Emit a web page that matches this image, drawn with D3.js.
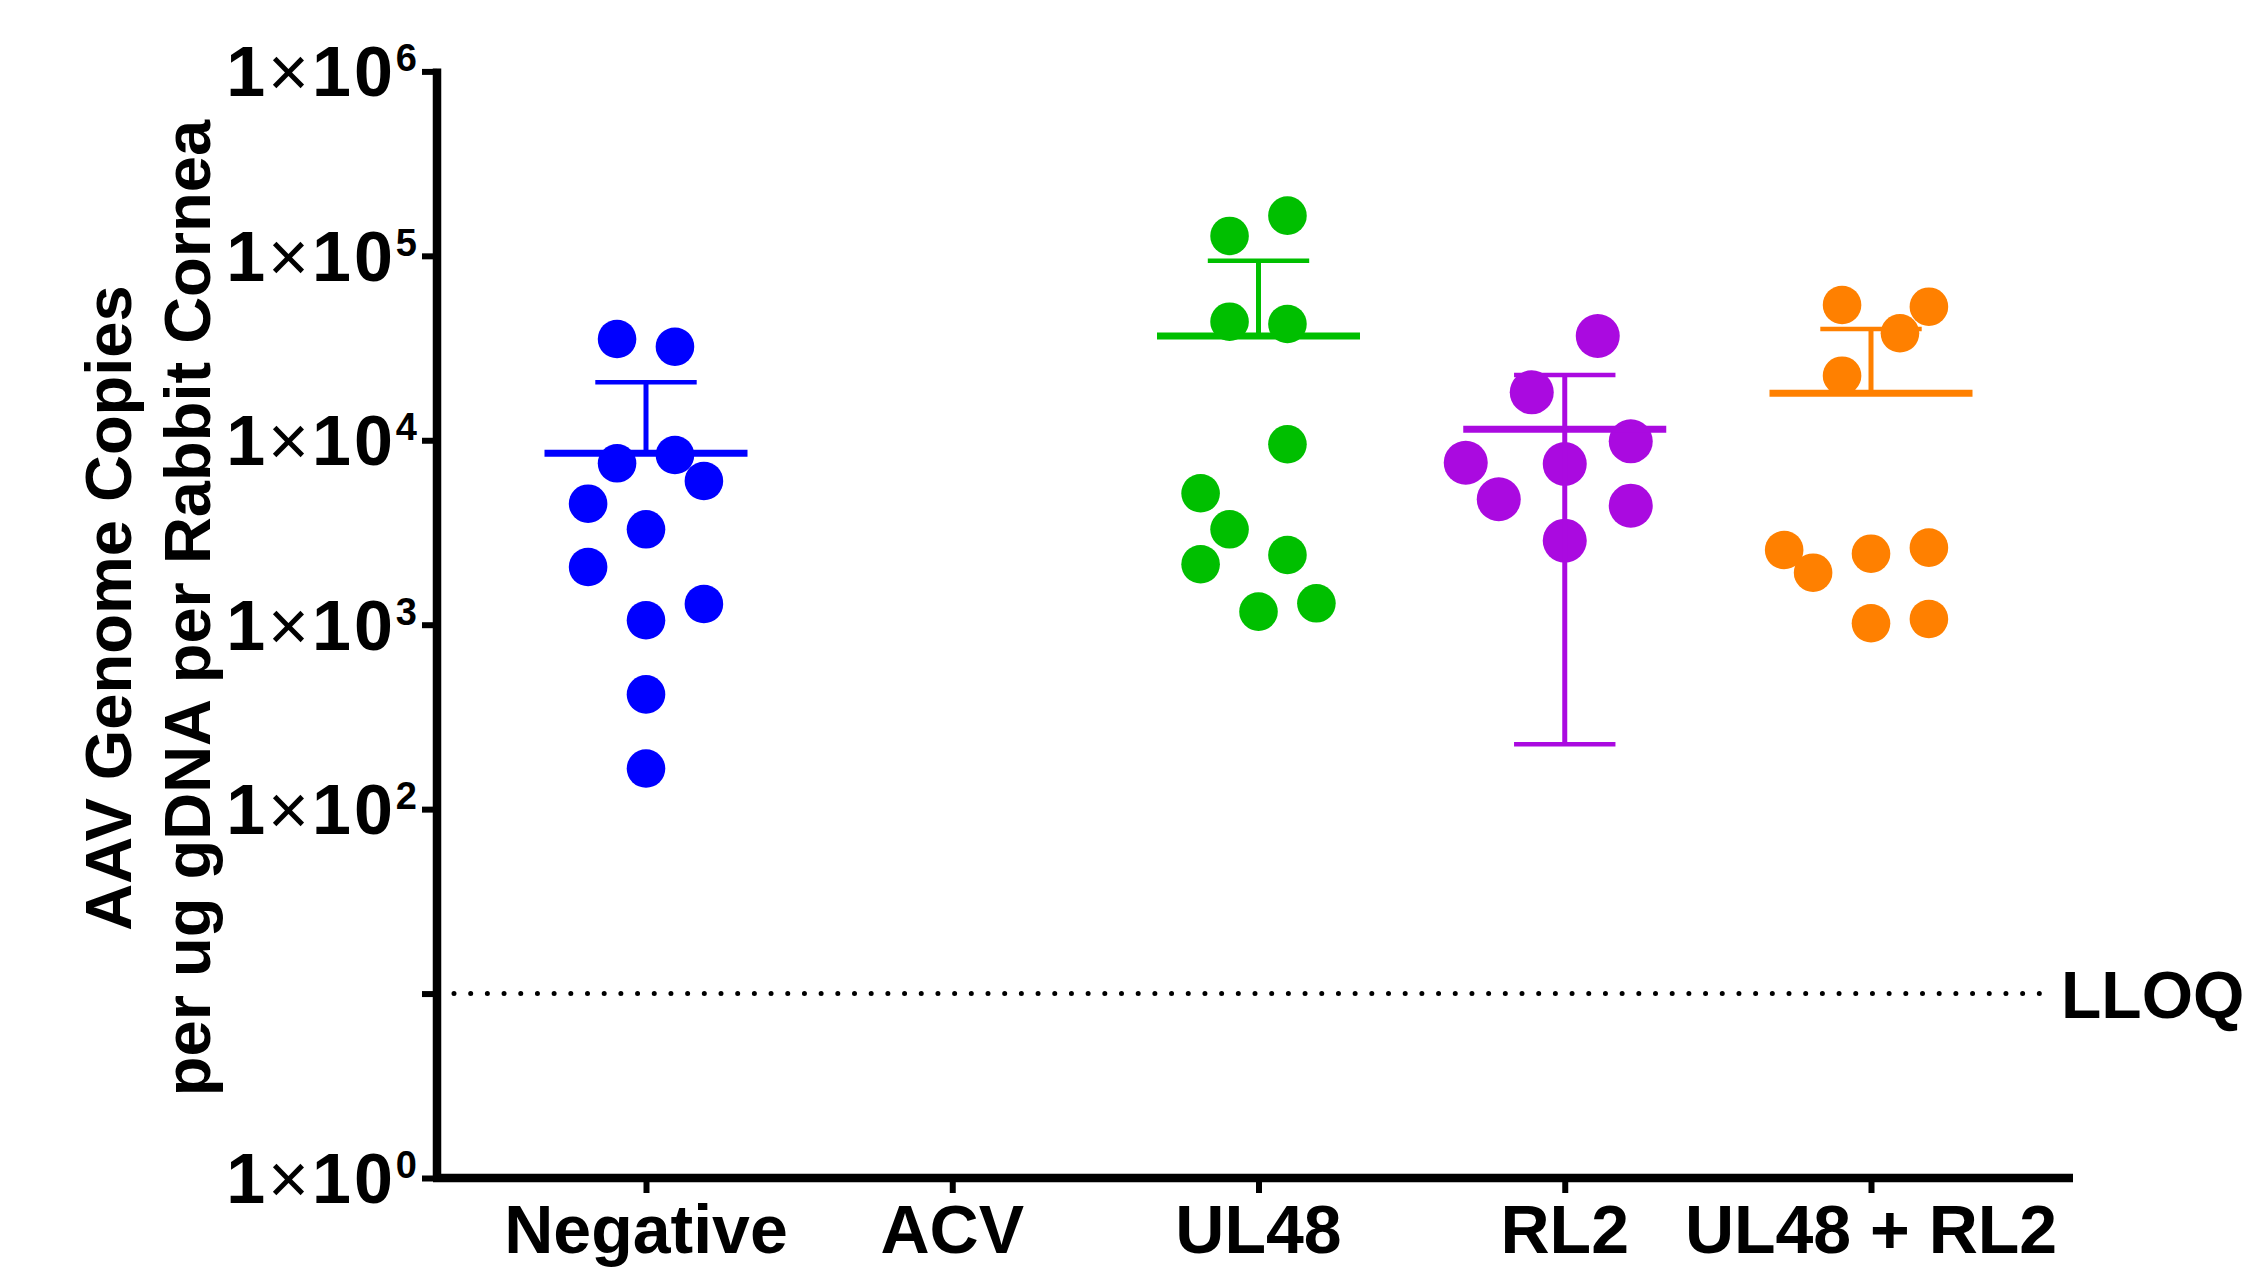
<!DOCTYPE html>
<html>
<head>
<meta charset="utf-8">
<script src="https://cdn.jsdelivr.net/npm/d3@7"></script>
<style>
  body { margin: 0; background: #fff; }
  text { font-family: "Liberation Sans", Arial, Helvetica, sans-serif; }
</style>
</head>
<body>
<div id="chart"></div>
<script>
// groups on the x axis
var categories = ["Negative", "ACV", "UL48", "RL2", "UL48 + RL2"];

// individual values per group, plus the column each dot sits in
var negativeValues = [35400, 32150, 7500, 8320, 6015, 4530, 3290, 2055, 1295, 1057, 419, 166];
var negativeSlots  = [-1, 1, -1, 1, 2, -2, 0, -2, 2, 0, 0, 0];
var acvValues = [];
var acvSlots  = [];
var ul48Values = [165100, 128200, 43950, 42700, 9510, 5160, 3290, 2127, 2388, 1177, 1306];
var ul48Slots  = [1, -1, -1, 1, 1, -2, -1, -2, 1, 0, 2];
var rl2Values = [36760, 18200, 9870, 7555, 7435, 4788, 4418, 2856];
var rl2Slots  = [1, -1, 2, -3, 0, -2, 2, 0];
var comboValues = [54150, 52990, 38020, 22390, 2541, 1914, 2427, 2616, 1018, 1074];
var comboSlots  = [-1, 2, 1, -1, -3, -2, 0, 2, 0, 2];

// mean and error bar ends (null = not drawn)
var means      = [8500, null, 36760, 11475, 17990];
var errorUpper = [20620, null, 94160, 22590, 40120];
var errorLower = [null, null, null, 225, null];

// y axis ticks, labelled ones and LLOQ
var yTicks = [1, 10, 100, 1000, 10000, 100000, 1000000];
var yTickExponents = [0, null, 2, 3, 4, 5, 6];
var lloq = 10;

// styles
var colors = ["#0000ff", "#000000", "#00bf00", "#aa0ae0", "#ff8000"];
var dotRadius = [19.3, 19.3, 19.3, 22, 19.3];

var width = 2246, height = 1268;

var svg = d3.select("#chart")
  .append("svg")
    .attr("width", width)
    .attr("height", height)
    .style("background", "#fff");

var x = d3.scalePoint()
  .domain(categories)
  .range([646, 1871]);

var y = d3.scaleLog()
  .domain([1, 1e6])
  .range([1178, 71.4]);

var axisLeftX = 437, axisRightX = 2073;

var groups = [
  {values: negativeValues, slots: negativeSlots},
  {values: acvValues, slots: acvSlots},
  {values: ul48Values, slots: ul48Slots},
  {values: rl2Values, slots: rl2Slots},
  {values: comboValues, slots: comboSlots}
].map(function(g, i) {
  g.name = categories[i];
  g.color = colors[i];
  g.r = dotRadius[i];
  g.mean = means[i];
  g.upper = errorUpper[i];
  g.lower = errorLower[i];
  return g;
});

// LLOQ dotted line
svg.append("line")
  .attr("x1", 454)
  .attr("x2", 2056)
  .attr("y1", y(lloq))
  .attr("y2", y(lloq))
  .attr("stroke", "#000")
  .attr("stroke-width", 5)
  .attr("stroke-linecap", "round")
  .attr("stroke-dasharray", "0 " + (1602 / 96));

svg.append("text")
  .attr("x", 2061)
  .attr("y", y(lloq) + 24)
  .style("font-size", "66px")
  .style("font-weight", "bold")
  .text("LLOQ");

// dots
var dots = svg.append("g");
groups.forEach(function(g) {
  dots.selectAll(null)
    .data(g.values.map(function(v, j) { return {v: v, slot: g.slots[j]}; }))
    .enter()
    .append("circle")
      .attr("cx", function(d) { return x(g.name) + d.slot * 1.5 * g.r; })
      .attr("cy", function(d) { return y(d.v); })
      .attr("r", g.r)
      .style("fill", g.color);
});

// mean + error bars
var bars = svg.append("g");
groups.forEach(function(g) {
  if (g.mean == null) return;
  var cx = x(g.name);
  bars.append("line")
    .attr("x1", cx - 101.5).attr("x2", cx + 101.5)
    .attr("y1", y(g.mean)).attr("y2", y(g.mean))
    .attr("stroke", g.color).attr("stroke-width", 7);
  [g.upper, g.lower].forEach(function(e) {
    if (e == null) return;
    bars.append("line")
      .attr("x1", cx).attr("x2", cx)
      .attr("y1", y(g.mean)).attr("y2", y(e))
      .attr("stroke", g.color).attr("stroke-width", 5);
    bars.append("line")
      .attr("x1", cx - 50.7).attr("x2", cx + 50.7)
      .attr("y1", y(e)).attr("y2", y(e))
      .attr("stroke", g.color).attr("stroke-width", 4.5);
  });
});

// y axis
var yAxis = svg.append("g")
  .attr("transform", "translate(" + axisLeftX + ",0)")
  .call(d3.axisLeft(y).tickValues(yTicks).tickSize(15).tickFormat(""));
yAxis.select(".domain").remove();
yAxis.selectAll(".tick line").attr("stroke", "#000").attr("stroke-width", 6);

svg.append("line")
  .attr("x1", axisLeftX).attr("x2", axisLeftX)
  .attr("y1", y(1e6) - 3).attr("y2", y(1))
  .attr("stroke", "#000").attr("stroke-width", 8.5);

// y tick labels 1×10^n
yTicks.forEach(function(t, i) {
  var e = yTickExponents[i];
  if (e == null) return;
  var lab = svg.append("text")
    .attr("x", 420)
    .attr("y", y(t) + 25)
    .attr("text-anchor", "end")
    .style("font-size", "70px")
    .style("font-weight", "bold")
    .style("letter-spacing", "3px");
  lab.append("tspan").text("1");
  lab.append("tspan").style("font-weight", "normal").text("\u00d7");
  lab.append("tspan").text("10");
  lab.append("tspan").attr("dy", -25).style("font-size", "38px").text(e);
});

// x axis
var xAxis = svg.append("g")
  .attr("transform", "translate(0," + y(1) + ")")
  .call(d3.axisBottom(x).tickSize(15).tickFormat(""));
xAxis.select(".domain").remove();
xAxis.selectAll(".tick line").attr("stroke", "#000").attr("stroke-width", 6);

svg.append("line")
  .attr("x1", axisLeftX - 4).attr("x2", axisRightX)
  .attr("y1", y(1)).attr("y2", y(1))
  .attr("stroke", "#000").attr("stroke-width", 8.5);

svg.append("g")
  .selectAll("text")
  .data(categories)
  .enter()
  .append("text")
    .attr("x", function(d) { return x(d); })
    .attr("y", 1253)
    .attr("text-anchor", "middle")
    .style("font-size", "68px")
    .style("font-weight", "bold")
    .text(function(d) { return d; });

// y axis title, two lines
var titleLines = ["AAV Genome Copies", "per ug gDNA per Rabbit Cornea"];
var titleBaselines = [131, 210];
titleLines.forEach(function(t, i) {
  svg.append("text")
    .attr("transform", "translate(" + titleBaselines[i] + ",608) rotate(-90)")
    .attr("text-anchor", "middle")
    .style("font-size", "65px")
    .style("font-weight", "bold")
    .text(t);
});
</script>
</body>
</html>
